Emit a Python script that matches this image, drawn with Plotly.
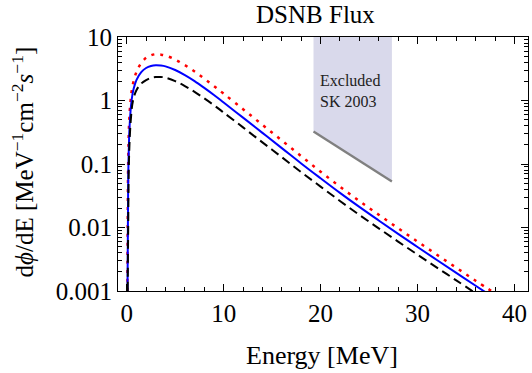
import plotly.graph_objects as go

# ---- data ----
E_blue = [0.08, 0.12, 0.18, 0.3, 0.5, 0.7, 1.0, 1.5, 2.0, 2.5, 3.0, 3.5, 4.0, 5.0, 6.0, 7.0, 8.0, 9.0,
          10, 12, 14, 16, 18, 20, 22, 24, 26, 28, 30, 32, 34, 36, 37]
F_blue = [0.001, 0.01, 0.1, 0.4, 1.0, 1.5, 2.1, 2.8, 3.25, 3.5, 3.6, 3.56, 3.45, 3.02, 2.51, 2.02, 1.58, 1.22,
          0.929, 0.537, 0.309, 0.178, 0.102, 0.0596, 0.0351, 0.0211, 0.0129, 0.00794, 0.00493, 0.00308,
          0.00193, 0.00121, 0.00096]

E_red = [0.07, 0.1, 0.15, 0.25, 0.4, 0.6, 1.0, 1.5, 2.0, 2.5, 3.0, 3.5, 4.0, 5.0, 6.0, 7.0, 8.0, 9.0,
         10, 12, 14, 16, 18, 20, 22, 24, 26, 28, 30, 32, 34, 36, 38]
F_red = [0.001, 0.01, 0.1, 0.45, 1.0, 1.7, 2.8, 3.9, 4.7, 5.15, 5.36, 5.28, 5.1, 4.41, 3.61, 2.87, 2.21, 1.69,
         1.28, 0.730, 0.414, 0.235, 0.133, 0.0757, 0.0439, 0.0262, 0.0159, 0.00973, 0.00601, 0.00373,
         0.00233, 0.00145, 0.00092]

E_black = [0.1, 0.15, 0.22, 0.4, 0.65, 1.0, 1.5, 2.0, 2.5, 3.0, 3.5, 4.0, 5.0, 6.0, 7.0, 8.0, 9.0,
           10, 12, 14, 16, 18, 20, 22, 24, 26, 28, 30, 32, 34, 36]
F_black = [0.001, 0.01, 0.1, 0.45, 1.0, 1.45, 1.85, 2.1, 2.27, 2.34, 2.35, 2.29, 2.02, 1.69, 1.37, 1.08, 0.842,
           0.646, 0.377, 0.219, 0.128, 0.0744, 0.0441, 0.0262, 0.0158, 0.0097, 0.0060, 0.00374, 0.00234,
           0.00147, 0.00092]

# SK 2003 excluded region
excl_E = [19.27, 27.36, 27.36, 19.27, 19.27]
excl_F = [10, 10, 0.053, 0.324, 10]
limit_E = [19.27, 27.36]
limit_F = [0.324, 0.053]

x_ticks = [0, 10, 20, 30, 40]
y_ticks = [0.001, 0.01, 0.1, 1, 10]
y_ticklabels = ["0.001", "0.01", "0.1", "1", "10"]

FONT = "Liberation Serif"

fig = go.Figure()
fig.add_trace(go.Scatter(x=excl_E, y=excl_F, mode="lines", fill="toself",
                         fillcolor="#d9d9eb", line=dict(width=0), hoverinfo="skip"))
fig.add_trace(go.Scatter(x=limit_E, y=limit_F, mode="lines",
                         line=dict(color="#808080", width=2.3)))
fig.add_trace(go.Scatter(x=E_red, y=F_red, mode="lines", line_shape="spline",
                         line=dict(color="#ff0000", width=2.5, dash="3px,6px")))
fig.add_trace(go.Scatter(x=E_blue, y=F_blue, mode="lines", line_shape="spline",
                         line=dict(color="#0000ff", width=2)))
fig.add_trace(go.Scatter(x=E_black, y=F_black, mode="lines", line_shape="spline",
                         line=dict(color="#000000", width=2, dash="9px,5px")))

fig.add_annotation(x=19.7, y=0.151, xref="x", yref="y", text="Excluded<br>SK 2003",
                   showarrow=False, xanchor="left", yanchor="middle", align="left",
                   font=dict(family=FONT, size=16, color="#222"))

# axis titles as annotations for exact placement
fig.add_annotation(x=0.498, y=-0.253, xref="paper", yref="paper", text="Energy [MeV]",
                   showarrow=False, xanchor="center", yanchor="middle",
                   font=dict(family=FONT, size=26, color="black"))
fig.add_annotation(x=-0.2325, y=0.509, xref="paper", yref="paper", textangle=-90,
                   text="d<i>ϕ</i>/dE [MeV<sup>−1</sup>cm<sup>−2</sup><i>s</i><sup>−1</sup>]",
                   showarrow=False, xanchor="center", yanchor="middle",
                   font=dict(family=FONT, size=25, color="black"))

minor_y = [m * 10 ** p for p in range(-3, 1) for m in range(2, 10)]

fig.update_layout(
    width=532, height=373,
    margin=dict(l=117.5, r=3.7, t=37, b=81.5),
    paper_bgcolor="white", plot_bgcolor="white",
    showlegend=False,
    font=dict(family=FONT, size=22, color="black"),
    title=dict(text="DSNB Flux", x=0.593, xanchor="center", y=0.962, yanchor="middle",
               font=dict(family=FONT, size=25, color="black")),
    xaxis=dict(range=[-0.9, 41.4], tickvals=x_ticks, ticks="inside", ticklen=7,
               tickcolor="black", showline=True, linecolor="black", linewidth=1, mirror="allticks",
               showgrid=False, zeroline=False, tickfont=dict(family=FONT, size=25), automargin=False,
               minor=dict(dtick=2, ticks="inside", ticklen=4, tickcolor="black", showgrid=False)),
    yaxis=dict(type="log", range=[-3, 1], tickvals=y_ticks, ticktext=y_ticklabels,
               ticks="inside", ticklen=7, tickcolor="black", showline=True, linecolor="black",
               linewidth=1, mirror="allticks", showgrid=False, zeroline=False, automargin=False,
               tickfont=dict(family=FONT, size=25),
               minor=dict(tickvals=minor_y, ticks="inside", ticklen=4, tickcolor="black", showgrid=False)),
)

fig.write_html("out.html", config={"displayModeBar": False},
               post_script="document.body.style.margin='0';document.body.style.overflow='hidden';")
